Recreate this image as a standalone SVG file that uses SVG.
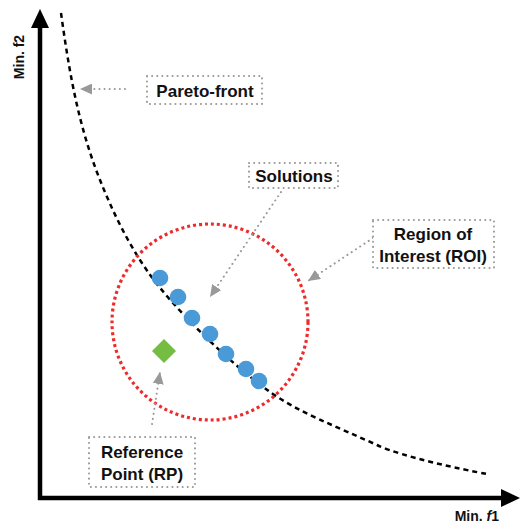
<svg xmlns="http://www.w3.org/2000/svg" width="520" height="525" viewBox="0 0 520 525">
<style>
.lbl{font-family:"Liberation Sans",Arial,sans-serif;font-weight:bold;font-size:17px;fill:#111;text-anchor:middle}
.ax{font-family:"Liberation Sans",Arial,sans-serif;font-weight:bold;font-size:14px;fill:#111}
.box{fill:#fff;stroke:#999;stroke-width:2;stroke-dasharray:0.1 5;stroke-linecap:round}
.conn{fill:none;stroke:#999;stroke-width:2;stroke-dasharray:0.1 5;stroke-linecap:round;marker-end:url(#ah)}
.sol{fill:#4a9ad8}
</style>
<defs>
<marker id="ah" markerUnits="userSpaceOnUse" markerWidth="13" markerHeight="11" refX="12" refY="5.5" orient="auto">
<path d="M0,0 L12,5.5 L0,11 z" fill="#999"/>
</marker>
<marker id="axh" markerUnits="userSpaceOnUse" markerWidth="20" markerHeight="20" refX="0" refY="9" orient="auto">
<path d="M0,0 L19,9 L0,18 z" fill="#000"/>
</marker>
</defs>
<g id="axes">
<line x1="40" y1="500" x2="40" y2="28" stroke="#000" stroke-width="4.5" marker-end="url(#axh)"/>
<line x1="38" y1="498" x2="501" y2="498" stroke="#000" stroke-width="4.5" marker-end="url(#axh)"/>
<text class="ax" transform="translate(24,57) rotate(-90)" text-anchor="middle">Min. f2</text>
<text class="ax" x="499" y="521" text-anchor="end">Min. <tspan font-style="italic">f</tspan>1</text>
</g>
<g id="pareto-curve">
<path d="M61,13 C68.7,68 77.6,124 100,180 C112,210 127,242 148,272 C172.5,307 228,362 270,392 C298,412 337.4,427 377,445 C403,457 460,469 487,474" fill="none" stroke="#000" stroke-width="2.5" stroke-dasharray="5 4"/>
</g>
<g id="roi-circle">
<circle cx="210" cy="322" r="98" fill="none" stroke="#ee2a2a" stroke-width="3.2" stroke-dasharray="3 3"/>
</g>
<g id="solutions-points">
<circle class="sol" cx="160" cy="278" r="8.3"/>
<circle class="sol" cx="178" cy="297" r="8.3"/>
<circle class="sol" cx="192" cy="318" r="8.3"/>
<circle class="sol" cx="210" cy="334" r="8.3"/>
<circle class="sol" cx="226" cy="354" r="8.3"/>
<circle class="sol" cx="246" cy="369" r="8.3"/>
<circle class="sol" cx="259" cy="381" r="8.3"/>
</g>
<g id="reference-point">
<polygon points="164,339 176,351 164,363 152,351" fill="#75bc42"/>
</g>
<g id="connectors">
<line class="conn" x1="125" y1="89" x2="80" y2="89"/>
<line class="conn" x1="281" y1="192" x2="210" y2="297"/>
<line class="conn" x1="373" y1="238" x2="308" y2="281"/>
<line class="conn" x1="152" y1="424" x2="160" y2="372"/>
</g>
<g id="label-pareto">
<rect class="box" x="147" y="76" width="115" height="28"/>
<text class="lbl" x="205" y="97">Pareto-front</text>
</g>
<g id="label-solutions">
<rect class="box" x="249" y="163" width="89" height="25"/>
<text class="lbl" x="294" y="182">Solutions</text>
</g>
<g id="label-roi">
<rect class="box" x="373" y="220" width="121" height="48"/>
<text class="lbl" x="433" y="240">Region of</text>
<text class="lbl" x="433" y="262">Interest (ROI)</text>
</g>
<g id="label-rp">
<rect class="box" x="89" y="437" width="106" height="50"/>
<text class="lbl" x="142" y="458">Reference</text>
<text class="lbl" x="142" y="480">Point (RP)</text>
</g>
</svg>
